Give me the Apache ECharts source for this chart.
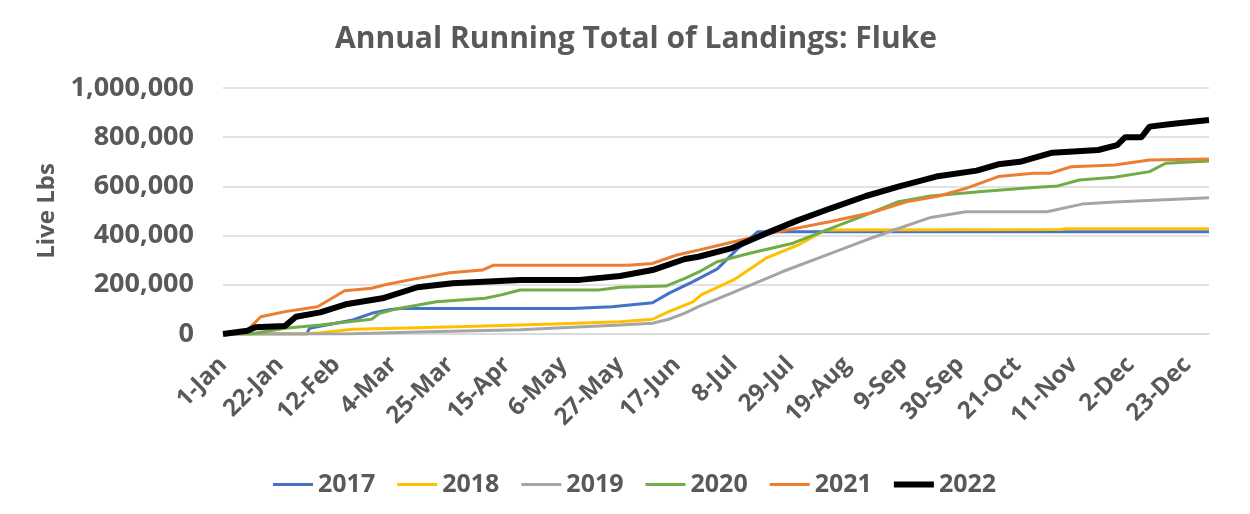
<!DOCTYPE html>
<html>
<head>
<meta charset="utf-8">
<script src="https://cdn.jsdelivr.net/npm/echarts@6/dist/echarts.min.js"></script>
<style>
  html, body { margin: 0; padding: 0; background: #fff; }
  #chart { width: 1250px; height: 514px; }
</style>
</head>
<body>
<div id="chart"></div>
<script>
// x = day of year (leap-year axis, 1-Jan = 0), y = running total in live lbs
const tickLabels = ['1-Jan', '22-Jan', '12-Feb', '4-Mar', '25-Mar', '15-Apr', '6-May', '27-May', '17-Jun',
  '8-Jul', '29-Jul', '19-Aug', '9-Sep', '30-Sep', '21-Oct', '11-Nov', '2-Dec', '23-Dec']

const y2017 = [[0, 0], [31, 0], [32, 23000], [48, 57000], [55, 84000], [62, 100000], [66, 104000], [129, 104000],
  [144, 111000], [159, 127000], [165, 165000], [174, 213000], [183, 265000], [190, 341000], [198, 416000], [365, 416000]]

const y2018 = [[0, 0], [30, 0], [36, 5000], [48, 19000], [68, 24000], [97, 33000], [122, 41000], [147, 50000],
  [159, 60000], [165, 91000], [174, 131000], [177, 159000], [189, 220000], [201, 308000], [213, 362000],
  [223, 423000], [310, 425000], [312, 428000], [365, 428000]]

const y2019 = [[0, 0], [45, 0], [72, 8000], [110, 17000], [147, 37000], [159, 44000], [165, 60000], [171, 85000],
  [176, 111000], [188, 165000], [207, 253000], [225, 328000], [238, 382000], [250, 429000], [262, 474000],
  [275, 497000], [305, 497000], [318, 528000], [330, 537000], [365, 554000]]

const y2020 = [[0, 0], [10, 0], [23, 23000], [36, 37000], [50, 54000], [55, 60000], [58, 84000], [65, 104000],
  [79, 131000], [97, 145000], [103, 159000], [110, 179000], [139, 179000], [147, 190000], [164, 195000],
  [171, 226000], [177, 257000], [183, 294000], [195, 328000], [211, 369000], [225, 429000], [238, 484000],
  [250, 538000], [262, 561000], [281, 579000], [300, 596000], [309, 602000], [317, 626000], [330, 637000],
  [343, 660000], [349, 694000], [365, 703000]]

const y2021 = [[0, 0], [8, 5000], [14, 70000], [23, 91000], [35, 111000], [45, 176000], [55, 186000], [60, 200000],
  [70, 222000], [84, 249000], [96, 260000], [100, 279000], [150, 279000], [159, 287000], [168, 321000],
  [176, 341000], [184, 362000], [201, 406000], [225, 457000], [240, 493000], [253, 537000], [265, 561000],
  [275, 592000], [287, 640000], [300, 653000], [306, 653000], [314, 680000], [330, 687000], [343, 707000],
  [365, 711000]]

const y2022 = [[0, 0], [9, 13000], [12, 27000], [23, 33000], [27, 70000], [36, 88000], [46, 122000], [59, 145000],
  [72, 190000], [85, 206000], [110, 220000], [132, 220000], [147, 236000], [159, 260000], [171, 305000],
  [176, 314000], [188, 348000], [201, 409000], [213, 463000], [225, 511000], [238, 561000], [250, 599000],
  [264, 640000], [279, 664000], [287, 690000], [295, 700000], [307, 737000], [324, 748000], [331, 768000],
  [334, 800000], [340, 800000], [343, 843000], [351, 854000], [365, 870000]]

const thinIcon = 'path://M0,0L40,0L40,3L0,3Z'
const thickIcon = 'path://M0,0L40,0L40,6L0,6Z'

const seriesList = [
  { name: '2017', data: y2017, color: '#4472c4', width: 3, icon: thinIcon },
  { name: '2018', data: y2018, color: '#ffc000', width: 3, icon: thinIcon },
  { name: '2019', data: y2019, color: '#a5a5a5', width: 3, icon: thinIcon },
  { name: '2020', data: y2020, color: '#70ad47', width: 3, icon: thinIcon },
  { name: '2021', data: y2021, color: '#ed7d31', width: 3, icon: thinIcon },
  { name: '2022', data: y2022, color: '#000000', width: 6, icon: thickIcon }
]

const textColor = '#595959'
const fontFamily = '"Open Sans", "Noto Sans", sans-serif'

function thousands(v) {
  return String(v).replace(/\B(?=(\d{3})+(?!\d))/g, ',')
}

const chart = echarts.init(document.getElementById('chart'))

const option = {
  animation: false,
  backgroundColor: '#fff',
  title: {
    text: 'Annual Running Total of Landings: Fluke',
    left: 330,
    top: 19,
    textStyle: { color: textColor, fontSize: 30, fontWeight: 'bold', fontFamily: fontFamily }
  },
  grid: { left: 223, right: 41, top: 88, bottom: 180 },
  legend: {
    top: 467,
    left: 268,
    itemWidth: 40,
    itemHeight: 6,
    itemGap: 22,
    symbolKeepAspect: true,
    textStyle: { color: textColor, fontSize: 25, fontWeight: 'bold', fontFamily: fontFamily },
    data: seriesList.map(s => ({ name: s.name, icon: s.icon }))
  },
  xAxis: {
    type: 'value',
    min: 0,
    max: 365,
    interval: 21,
    axisLine: { show: true, lineStyle: { color: '#d9d9d9', width: 1.5 } },
    axisTick: { show: false },
    splitLine: { show: false },
    axisLabel: {
      rotate: 45,
      margin: 27,
      padding: [28, 0, 0, 0],
      color: textColor,
      fontSize: 24,
      fontWeight: 'bold',
      fontFamily: fontFamily,
      formatter: v => (v % 21 === 0 ? tickLabels[v / 21] || '' : '')
    }
  },
  yAxis: {
    type: 'value',
    min: 0,
    max: 1000000,
    interval: 200000,
    name: 'Live Lbs',
    nameLocation: 'middle',
    nameRotate: 90,
    nameGap: 158,
    nameTextStyle: { color: textColor, fontSize: 24, fontWeight: 'bold', fontFamily: fontFamily },
    axisLine: { show: false },
    axisTick: { show: false },
    splitLine: { lineStyle: { color: '#d9d9d9', width: 1.5 } },
    axisLabel: {
      margin: 29,
      color: textColor,
      fontSize: 27,
      fontWeight: 'bold',
      fontFamily: fontFamily,
      formatter: v => thousands(v)
    }
  },
  series: seriesList.map(s => ({
    name: s.name,
    type: 'line',
    data: s.data,
    symbol: 'none',
    color: s.color,
    lineStyle: { color: s.color, width: s.width }
  }))
}

chart.setOption(option)
</script>
</body>
</html>
